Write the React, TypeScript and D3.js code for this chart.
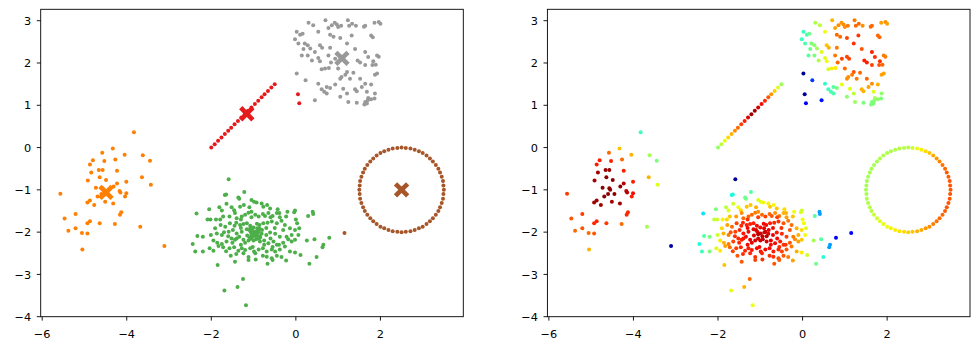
import * as d3 from "d3";

// cluster points: [x, y, score]  (score drives the jet colour of the right panel)
const orangePts: number[][] = [
  [-3.83, 0.36, 0.42], [-4.33, -0.02, 0.7], [-4.58, -0.12, 0.8], [-4.05, -0.17, 0.72],
  [-3.62, -0.18, 0.55], [-4.8, -0.3, 0.88], [-4.87, -0.4, 0.88], [-4.53, -0.32, 0.88],
  [-4.27, -0.28, 0.8], [-3.45, -0.31, 0.5], [-4.84, -0.59, 0.97], [-4.66, -0.53, 0.98],
  [-4.57, -0.53, 0.98], [-4.23, -0.55, 0.88], [-4.64, -0.7, 0.99], [-4.92, -0.78, 0.97],
  [-4.49, -0.77, 0.99], [-3.64, -0.7, 0.72], [-4.01, -0.81, 0.88], [-4.23, -0.85, 0.95],
  [-3.43, -0.88, 0.62], [-5.57, -1.09, 0.85], [-4.73, -0.95, 0.99], [-4.57, -0.96, 0.99],
  [-4.31, -0.92, 0.99], [-4.17, -1.03, 0.95], [-4.15, -1.06, 0.95], [-4.01, -1.08, 0.9],
  [-4.04, -1.16, 0.88], [-4.69, -1.16, 0.99], [-4.51, -1.28, 0.97], [-4.93, -1.3, 0.97],
  [-4.87, -1.25, 0.97], [-4.77, -1.36, 0.97], [-4.32, -1.32, 0.97], [-4.13, -1.53, 0.87],
  [-4.16, -1.59, 0.87], [-5.21, -1.57, 0.85], [-5.47, -1.68, 0.82], [-4.87, -1.74, 0.87],
  [-4.93, -1.79, 0.87], [-4.64, -1.79, 0.85], [-4.28, -1.81, 0.8], [-3.68, -1.87, 0.55],
  [-5.21, -1.91, 0.82], [-5.38, -1.97, 0.8], [-5.06, -2.02, 0.8], [-4.93, -2.03, 0.82],
  [-3.11, -2.33, 0.03], [-5.05, -2.41, 0.72], [-4.55, -1.0, 0.99], [-4.45, -1.1, 0.99],
  [-4.6, -1.1, 0.99],
];

const redPts: number[][] = [
  [-2.0, 0.0, 0.53], [-1.92, 0.08, 0.58], [-1.84, 0.16, 0.63], [-1.76, 0.24, 0.68],
  [-1.68, 0.32, 0.72], [-1.6, 0.4, 0.76], [-1.53, 0.47, 0.8], [-1.45, 0.55, 0.84],
  [-1.37, 0.63, 0.88], [-1.29, 0.71, 0.92], [-1.21, 0.79, 0.97], [-1.13, 0.87, 0.97],
  [-1.05, 0.95, 0.93], [-0.97, 1.03, 0.9], [-0.89, 1.11, 0.87], [-0.81, 1.19, 0.82],
  [-0.74, 1.26, 0.75], [-0.66, 1.34, 0.69], [-0.58, 1.42, 0.62], [-0.5, 1.5, 0.54],
  [0.05, 1.26, 0.02], [0.08, 1.05, 0.1],
];

const grayPts: number[][] = [
  [0.7, 3.01, 0.72], [0.3, 2.95, 0.56], [0.41, 2.89, 0.58], [0.77, 2.83, 0.74],
  [0.85, 2.89, 0.76], [0.92, 2.95, 0.75], [0.97, 2.91, 0.76], [1.0, 2.85, 0.76],
  [1.07, 2.88, 0.78], [1.23, 3.01, 0.78], [1.26, 2.88, 0.8], [1.33, 2.93, 0.8],
  [1.42, 2.88, 0.76], [1.61, 2.86, 0.8], [1.64, 2.88, 0.8], [1.86, 2.95, 0.74],
  [1.96, 2.97, 0.76], [2.0, 2.93, 0.74], [0.02, 2.74, 0.42], [0.1, 2.67, 0.44],
  [0.16, 2.69, 0.48], [0.53, 2.74, 0.64], [0.81, 2.67, 0.8], [0.89, 2.62, 0.8],
  [1.05, 2.59, 0.84], [1.32, 2.65, 0.85], [1.78, 2.65, 0.8], [1.82, 2.61, 0.8],
  [-0.02, 2.56, 0.42], [0.06, 2.46, 0.44], [0.21, 2.46, 0.5], [0.28, 2.42, 0.52],
  [0.57, 2.42, 0.7], [0.62, 2.36, 0.72], [1.21, 2.46, 0.86], [0.34, 2.34, 0.55],
  [0.18, 2.33, 0.48], [0.81, 2.36, 0.78], [1.4, 2.33, 0.82], [0.45, 2.26, 0.62],
  [0.14, 2.18, 0.46], [0.28, 2.18, 0.5], [1.64, 2.26, 0.88], [0.53, 2.12, 0.62],
  [0.77, 2.18, 0.78], [0.93, 2.1, 0.84], [0.38, 2.06, 0.56], [0.83, 2.01, 0.8],
  [1.46, 2.06, 0.88], [1.92, 2.18, 0.78], [1.96, 2.15, 0.78], [1.71, 2.14, 0.86],
  [1.52, 2.01, 0.88], [1.83, 2.04, 0.86], [0.57, 2.04, 0.64], [0.78, 1.88, 0.66],
  [0.69, 1.87, 0.66], [0.61, 1.85, 0.6], [1.64, 1.95, 0.84], [1.81, 1.95, 0.82],
  [1.89, 1.96, 0.8], [1.0, 1.87, 0.8], [1.21, 1.79, 0.82], [1.36, 1.77, 0.8],
  [0.02, 1.75, 0.02], [1.17, 1.72, 0.78], [1.08, 1.67, 0.76], [1.87, 1.72, 0.74],
  [1.92, 1.75, 0.74], [0.23, 1.59, 0.18], [1.05, 1.63, 0.76], [1.28, 1.63, 0.78],
  [0.93, 1.49, 0.64], [0.73, 1.43, 0.45], [0.53, 1.51, 0.4], [1.52, 1.63, 0.8],
  [1.64, 1.51, 0.76], [1.78, 1.49, 0.72], [1.12, 1.39, 0.62], [1.56, 1.43, 0.74],
  [0.61, 1.38, 0.42], [1.4, 1.38, 0.72], [1.44, 1.33, 0.72], [1.68, 1.32, 0.62],
  [0.67, 1.32, 0.44], [0.81, 1.41, 0.5], [0.73, 1.28, 0.44], [1.21, 1.28, 0.58],
  [1.87, 1.28, 0.52], [1.05, 1.2, 0.52], [1.71, 1.17, 0.56], [1.7, 1.12, 0.52],
  [1.78, 1.14, 0.52], [1.86, 1.16, 0.5], [1.64, 1.08, 0.5], [0.45, 1.12, 0.14],
  [1.24, 1.08, 0.54], [1.44, 1.06, 0.5], [1.62, 1.02, 0.5], [1.68, 1.04, 0.5],
  [1.1, 2.1, 0.84], [1.05, 2.15, 0.84],
];

const greenPts: number[][] = [
  [-1.59, -0.75, 0.02], [-1.22, -1.05, 0.45], [-1.68, -1.12, 0.38], [-1.65, -1.11, 0.38],
  [-1.36, -1.18, 0.48], [-1.34, -1.21, 0.48], [-2.35, -1.56, 0.35], [-2.05, -1.46, 0.5],
  [-1.81, -1.41, 0.58], [-1.75, -1.49, 0.62], [-1.64, -1.33, 0.6], [-1.52, -1.41, 0.64],
  [-1.46, -1.48, 0.68], [-1.32, -1.4, 0.7], [-1.23, -1.36, 0.7], [-1.1, -1.41, 0.72],
  [-1.05, -1.24, 0.62], [-0.99, -1.28, 0.62], [-0.93, -1.3, 0.64], [-0.81, -1.32, 0.65],
  [-0.77, -1.4, 0.7], [-0.68, -1.36, 0.65], [-0.61, -1.44, 0.7], [-0.43, -1.46, 0.68],
  [-0.39, -1.55, 0.72], [-0.2, -1.52, 0.64], [-0.04, -1.53, 0.62], [-0.02, -1.49, 0.6],
  [0.29, -1.62, 0.45], [0.4, -1.52, 0.28], [0.41, -1.57, 0.28], [-2.09, -1.7, 0.58],
  [-2.02, -1.7, 0.6], [-1.89, -1.7, 0.65], [-1.79, -1.7, 0.68], [-1.72, -1.63, 0.7],
  [-1.57, -1.63, 0.74], [-1.44, -1.55, 0.76], [-1.4, -1.67, 0.8], [-1.28, -1.63, 0.8],
  [-1.2, -1.59, 0.8], [-1.12, -1.54, 0.78], [-1.05, -1.52, 0.76], [-0.96, -1.59, 0.8],
  [-0.88, -1.63, 0.84], [-0.78, -1.57, 0.8], [-0.73, -1.62, 0.82], [-0.65, -1.55, 0.76],
  [-0.55, -1.62, 0.78], [-0.45, -1.55, 0.72], [-0.38, -1.65, 0.74], [-0.23, -1.63, 0.7],
  [0.0, -1.7, 0.64], [0.03, -1.79, 0.64], [-1.91, -1.91, 0.68], [-1.78, -1.83, 0.74],
  [-1.67, -1.87, 0.8], [-1.56, -1.79, 0.84], [-1.41, -1.78, 0.87], [-1.32, -1.83, 0.88],
  [-1.24, -1.81, 0.88], [-1.16, -1.79, 0.88], [-1.08, -1.85, 0.9], [-1.0, -1.89, 0.9],
  [-0.91, -1.91, 0.91], [-0.86, -1.83, 0.9], [-0.77, -1.79, 0.88], [-0.67, -1.78, 0.87],
  [-0.57, -1.75, 0.86], [-0.45, -1.79, 0.82], [-0.34, -1.73, 0.78], [-0.26, -1.83, 0.8],
  [-0.14, -1.91, 0.72], [-0.02, -1.95, 0.68], [0.08, -1.91, 0.62], [-2.33, -2.09, 0.45],
  [-2.2, -2.11, 0.5], [-2.01, -2.07, 0.6], [-1.87, -2.03, 0.72], [-1.75, -2.07, 0.78],
  [-1.59, -1.99, 0.84], [-1.49, -1.95, 0.87], [-1.4, -2.03, 0.89], [-1.28, -1.99, 0.9],
  [-1.16, -1.93, 0.91], [-1.07, -1.99, 0.92], [-0.99, -2.03, 0.93], [-0.88, -1.99, 0.92],
  [-0.81, -2.04, 0.92], [-0.7, -2.07, 0.91], [-0.61, -2.01, 0.89], [-0.49, -2.04, 0.87],
  [-0.38, -2.11, 0.84], [-0.22, -2.11, 0.78], [-0.1, -2.07, 0.72], [0.06, -2.07, 0.64],
  [0.26, -2.2, 0.55], [0.44, -2.17, 0.45], [0.79, -2.13, 0.12], [-2.44, -2.28, 0.38],
  [-1.95, -2.2, 0.66], [-1.86, -2.25, 0.72], [-1.75, -2.28, 0.78], [-1.64, -2.22, 0.84],
  [-1.52, -2.15, 0.87], [-1.44, -2.18, 0.88], [-1.34, -2.11, 0.9], [-1.24, -2.18, 0.91],
  [-1.12, -2.2, 0.92], [-1.05, -2.15, 0.93], [-0.94, -2.17, 0.94], [-0.85, -2.22, 0.92],
  [-0.75, -2.2, 0.91], [-0.65, -2.26, 0.9], [-0.53, -2.22, 0.88], [-0.45, -2.3, 0.86],
  [-0.3, -2.25, 0.82], [-0.18, -2.17, 0.76], [-0.1, -2.22, 0.74], [-0.02, -2.18, 0.7],
  [0.65, -2.3, 0.28], [0.63, -2.36, 0.28], [-2.38, -2.46, 0.42], [-2.2, -2.46, 0.5],
  [-2.04, -2.38, 0.62], [-1.95, -2.44, 0.66], [-1.83, -2.33, 0.74], [-1.72, -2.36, 0.8],
  [-1.57, -2.38, 0.85], [-1.46, -2.36, 0.87], [-1.36, -2.44, 0.87], [-1.28, -2.38, 0.88],
  [-1.2, -2.42, 0.89], [-1.08, -2.38, 0.9], [-0.99, -2.46, 0.89], [-0.88, -2.41, 0.9],
  [-0.78, -2.38, 0.9], [-0.69, -2.46, 0.88], [-0.57, -2.41, 0.87], [-0.49, -2.46, 0.84],
  [-0.38, -2.41, 0.82], [-0.26, -2.34, 0.78], [-0.14, -2.46, 0.72], [-0.02, -2.48, 0.66],
  [0.11, -2.54, 0.6], [-1.54, -2.56, 0.82], [-1.41, -2.52, 0.86], [-1.24, -2.5, 0.87],
  [-1.12, -2.59, 0.86], [-0.96, -2.5, 0.87], [-0.78, -2.56, 0.86], [-0.69, -2.58, 0.86],
  [-0.57, -2.62, 0.84], [-0.45, -2.56, 0.82], [-0.34, -2.59, 0.78], [-0.23, -2.67, 0.74],
  [0.49, -2.59, 0.4], [0.32, -2.75, 0.48], [-1.85, -2.78, 0.7], [-1.44, -2.7, 0.82],
  [-1.12, -2.66, 0.84], [-0.67, -2.75, 0.82], [-0.55, -2.66, 0.82], [-1.25, -3.11, 0.8],
  [-1.38, -3.3, 0.72], [-1.69, -3.38, 0.63], [-1.18, -3.73, 0.64],
  [-1.05, -2.05, 0.95], [-0.95, -2.1, 0.94], [-0.9, -2.0, 0.93], [-1.1, -1.95, 0.92],
  [-0.85, -2.1, 0.95], [-1.0, -2.2, 0.93], [-1.15, -2.08, 0.92], [-0.8, -1.95, 0.91],
  [-1.2, -2.25, 0.91], [-0.75, -2.3, 0.9], [-1.3, -2.3, 0.9], [-0.7, -1.9, 0.9],
  [-1.3, -1.9, 0.9], [-0.6, -2.15, 0.9], [-1.4, -2.15, 0.89], [-0.92, -1.8, 0.9],
  [-1.02, -2.35, 0.9], [-0.55, -2.35, 0.87], [-1.5, -2.25, 0.87], [-1.45, -1.85, 0.87],
  [-0.5, -1.9, 0.86], [-1.6, -2.1, 0.86], [-0.3, -1.95, 0.82], [-1.7, -2.0, 0.82],
  [-1.65, -2.45, 0.84], [-0.95, -2.65, 0.86], [-1.05, -1.65, 0.85], [-0.6, -1.65, 0.84],
  [-1.3, -1.7, 0.86], [-0.4, -2.3, 0.86],
];

const brownPts: number[][] = [
  [3.5, -1.0, 0.82], [3.49, -0.9, 0.82], [3.48, -0.79, 0.82], [3.45, -0.69, 0.81],
  [3.41, -0.59, 0.81], [3.37, -0.5, 0.8], [3.31, -0.41, 0.79], [3.24, -0.33, 0.77],
  [3.17, -0.26, 0.75], [3.09, -0.19, 0.73], [3.0, -0.13, 0.7], [2.91, -0.09, 0.68],
  [2.81, -0.05, 0.66], [2.71, -0.02, 0.63], [2.6, -0.01, 0.6], [2.5, 0.0, 0.57],
  [2.4, -0.01, 0.57], [2.29, -0.02, 0.57], [2.19, -0.05, 0.56], [2.09, -0.09, 0.56],
  [2.0, -0.13, 0.56], [1.91, -0.19, 0.56], [1.83, -0.26, 0.56], [1.76, -0.33, 0.55],
  [1.69, -0.41, 0.55], [1.63, -0.5, 0.55], [1.59, -0.59, 0.55], [1.55, -0.69, 0.55],
  [1.52, -0.79, 0.55], [1.51, -0.9, 0.55], [1.5, -1.0, 0.55], [1.51, -1.1, 0.55],
  [1.52, -1.21, 0.56], [1.55, -1.31, 0.56], [1.59, -1.41, 0.57], [1.63, -1.5, 0.57],
  [1.69, -1.59, 0.59], [1.76, -1.67, 0.6], [1.83, -1.74, 0.62], [1.91, -1.81, 0.63],
  [2.0, -1.87, 0.64], [2.09, -1.91, 0.65], [2.19, -1.95, 0.66], [2.29, -1.98, 0.67],
  [2.4, -1.99, 0.68], [2.5, -2.0, 0.69], [2.6, -1.99, 0.7], [2.71, -1.98, 0.72],
  [2.81, -1.95, 0.73], [2.91, -1.91, 0.75], [3.0, -1.87, 0.76], [3.09, -1.81, 0.78],
  [3.17, -1.74, 0.79], [3.24, -1.67, 0.8], [3.31, -1.59, 0.8], [3.37, -1.5, 0.81],
  [3.41, -1.41, 0.82], [3.45, -1.31, 0.82], [3.48, -1.21, 0.82], [3.49, -1.1, 0.82],
  [1.15, -2.02, 0.12],
];

// cluster centres (X markers)
const centers: number[][] = [
  [-4.49, -1.06], [-1.16, 0.8], [1.09, 2.11], [-0.97, -2.03], [2.5, -1.0],
];

const clusterColors = ["#ff7f00", "#e41a1c", "#999999", "#4daf4a", "#a65628"];
const clusters = [orangePts, redPts, grayPts, greenPts, brownPts];

const xTicks = [-6, -4, -2, 0, 2];
const yTicks = [-4, -3, -2, -1, 0, 1, 2, 3];

// matplotlib "jet"
const jr = d3.scaleLinear().domain([0, 0.35, 0.66, 0.89, 1]).range([0, 0, 1, 1, 0.5]).clamp(true);
const jg = d3.scaleLinear().domain([0, 0.125, 0.375, 0.64, 0.91, 1]).range([0, 0, 1, 1, 0, 0]).clamp(true);
const jb = d3.scaleLinear().domain([0, 0.11, 0.34, 0.65, 1]).range([0.5, 1, 1, 0, 0]).clamp(true);
const jet = (v: number) => d3.rgb(jr(v) * 255, jg(v) * 255, jb(v) * 255).formatHex();

const fmt = (v: number) => (v < 0 ? "\u2212" + Math.abs(v) : String(v));

function xMarker(cx: number, cy: number) {
  const L = 8.6, t = 2.3;
  const pts = [[-t, L], [t, L], [t, t], [L, t], [L, -t], [t, -t], [t, -L], [-t, -L], [-t, -t], [-L, -t], [-L, t], [-t, t]];
  const c = Math.SQRT1_2;
  return "M" + pts.map(([a, b]) => `${cx + (a - b) * c},${cy + (a + b) * c}`).join("L") + "Z";
}

function Panel({ x0, colorBy }: { x0: number; colorBy: "cluster" | "score" }) {
  const x = d3.scaleLinear().domain([-6.035, 3.96]).range([x0, x0 + 422.6]);
  const y = d3.scaleLinear().domain([-4.0, 3.27]).range([316.7, 9.3]);
  const [ya, yb] = y.range();
  const [xa, xb] = x.range();
  return (
    <g>
      {clusters.map((pts, ci) =>
        pts.map((p, i) => (
          <circle key={ci + "-" + i} cx={x(p[0])} cy={y(p[1])} r={2}
            fill={colorBy === "cluster" ? clusterColors[ci] : jet(p[2])} />
        ))
      )}
      {colorBy === "cluster" &&
        centers.map((c, i) => <path key={"c" + i} d={xMarker(x(c[0]), y(c[1]))} fill={clusterColors[i]} />)}
      <rect x={xa} y={yb} width={xb - xa} height={ya - yb} fill="none" stroke="#000" strokeWidth={0.9} />
      {xTicks.map((t) => (
        <g key={"x" + t}>
          <line x1={x(t)} x2={x(t)} y1={ya} y2={ya + 3.9} stroke="#000" strokeWidth={0.9} />
          <text x={x(t)} y={ya + 21} textAnchor="middle" fontSize={11.3} fontFamily="DejaVu Sans">{fmt(t)}</text>
        </g>
      ))}
      {yTicks.map((t) => (
        <g key={"y" + t}>
          <line x1={xa - 3.9} x2={xa} y1={y(t)} y2={y(t)} stroke="#000" strokeWidth={0.9} />
          <text x={xa - 9.5} y={y(t) + 4.1} textAnchor="end" fontSize={11.3} fontFamily="DejaVu Sans">{fmt(t)}</text>
        </g>
      ))}
    </g>
  );
}

export default function App() {
  return (
    <svg width={980} height={351} style={{ position: "absolute", left: 0, top: 0, background: "#fff" }}>
      <rect width={980} height={351} fill="#fff" />
      <Panel x0={40.7} colorBy="cluster" />
      <Panel x0={547.4} colorBy="score" />
    </svg>
  );
}
